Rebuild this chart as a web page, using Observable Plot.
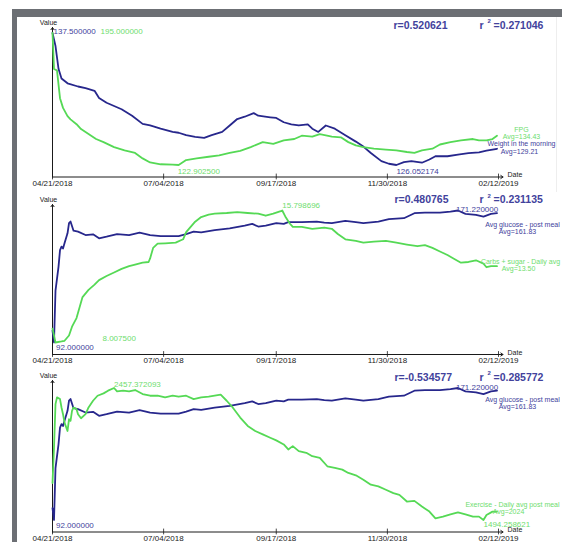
<!DOCTYPE html>
<html><head><meta charset="utf-8">
<script src="https://cdn.jsdelivr.net/npm/d3@7"></script>
<script src="https://cdn.jsdelivr.net/npm/@observablehq/plot@0.6"></script>
<style>
html,body{margin:0;padding:0;background:#fff;width:562px;height:542px;overflow:hidden;}
#wrap{position:relative;width:562px;height:542px;overflow:hidden;}
.frame{position:absolute;background:#6c6f74;}
.panel{position:absolute;left:0;}
.panel svg{overflow:visible;background:transparent;}
</style></head>
<body><div id="wrap">
<div class="frame" style="left:12px;top:9px;width:550px;height:8px;"></div>
<div class="frame" style="left:12px;top:9px;width:5px;height:533px;"></div>
<div style="position:absolute;left:556px;top:17px;width:1px;height:175px;background:#eeeeee;"></div>
<div class="panel" id="p1" style="top:17px"></div>
<div class="panel" id="p2" style="top:190px"></div>
<div class="panel" id="p3" style="top:365px"></div>
</div>
<script>
// ---- data (days since 04/21/2018) ----
const startLabel = "04/21/2018";
const endLabel = "02/12/2019";
const tickLabels = ["04/21/2018","07/04/2018","09/17/2018","11/30/2018","02/12/2019"];

const weightDays = [0,2,4,6,10,17,22,28,31,36,46,53,60,65,72,80,84,89,95,101,106,113,118,123,128,134,137,145,149,154,159,164,170,173,177,182,188,195,202,207,212,219,224,229,234,239,246,251,255,263,270,277,284,289,296];
const weightVals = [137.5,136.37,134.40,133.56,133.14,132.86,132.72,132.49,131.87,131.45,130.89,130.33,129.62,129.48,129.20,128.92,128.85,128.64,128.50,128.41,128.64,128.92,129.48,130.04,130.24,130.55,130.33,130.19,130.13,129.76,129.57,129.48,129.57,129.20,128.92,129.48,129.20,128.64,128.08,127.65,127.09,126.39,126.16,126.052174,126.30,126.39,126.25,126.53,126.81,126.81,126.95,127.09,127.15,127.29,127.46];

const fpgDays = [0,1,3,5,7,10,12,16,19,24,29,34,41,48,55,60,65,72,80,84,89,96,104,111,118,125,132,140,147,154,161,166,173,178,186,192,197,202,207,214,222,229,236,241,246,253,258,265,272,280,284,289,293,296];
const fpgVals = [195,175.4,174.5,159.4,154.1,149.6,147.8,145.2,142.5,139.8,137.1,135.4,132.7,130.9,129.5,126.5,124.3,123.3,123.1,122.9025,125.6,126.5,127.4,128.2,129.5,130.6,132.7,135.4,134.5,136.3,137.1,138.9,138.4,139.8,138.4,138.0,135.4,133.6,132.7,131.8,131.3,130.9,130.0,129.5,130.9,131.8,134.1,135.4,136.3,137.1,136.3,136.3,137.1,138.9];

const glucoseDays = [0,1,2,4,5,6,7,8,10,11,12,14,17,22,27,31,36,43,51,58,65,72,80,84,89,94,99,108,118,128,133,137,142,149,154,157,166,176,181,186,195,202,207,217,224,234,241,248,258,265,270,275,282,287,292,296];
const glucoseVals = [99.1,92,123.2,137.4,147.4,149.5,148.4,151.5,157.5,163.6,164.6,159.1,158.5,156.5,156.9,154.5,155.5,157.1,156.5,157.9,156.5,155.9,155.9,155.9,157.1,158.5,158.1,159.5,160.5,162.2,163.2,161.6,162.2,163.6,163.2,164.2,164.2,164.6,164.0,163.6,165.0,164.2,163.6,164.6,166.0,166.6,169.6,170.0,170.0,170.6,171.22,169.2,168.6,167.6,169.2,169.6];

const carbsDays = [0,2,6,8,11,13,16,18,20,24,28,31,36,41,46,51,55,60,64,65,67,70,75,82,87,89,92,95,99,104,108,116,123,130,137,142,147,152,153,155,158,160,166,173,181,186,190,195,202,207,214,222,229,236,243,248,253,258,263,267,272,277,282,287,289,292,296];
const carbsVals = [8.83,8.0075,8.07,8.11,8.42,8.94,9.45,10.07,10.69,11.11,11.42,11.69,11.93,12.14,12.35,12.51,12.60,12.72,12.76,12.97,13.59,13.84,13.86,13.90,14.10,14.52,14.83,15.14,15.41,15.55,15.61,15.65,15.70,15.65,15.61,15.49,15.61,15.76,15.798696,15.45,15.03,14.83,14.83,14.72,14.79,14.72,14.41,14.10,14.00,13.90,13.96,14.00,13.90,13.79,13.69,13.75,13.59,13.38,13.17,12.97,12.72,12.76,12.86,12.66,12.45,12.51,12.51];

const exDays = [0,1,2,3,5,6,7,8,10,11,12,13,14,16,17,19,22,24,27,30,34,37,41,43,47,51,55,60,65,70,75,80,84,89,94,99,104,108,112,116,120,125,130,135,140,145,149,154,157,160,164,169,173,178,183,188,193,197,202,207,212,217,222,227,231,236,241,246,251,255,260,265,270,275,280,284,287,289,293,296];
const exVals = [1763.8,2021.2,2339.8,2388.8,2376.5,2315.3,2266.2,2205.0,2143.7,2229.5,2217.2,2290.7,2315.3,2303.0,2266.2,2236.8,2266.2,2315.3,2364.3,2401.0,2418.2,2437.8,2457.372093,2432.9,2437.8,2432.9,2442.7,2413.3,2401.0,2401.0,2388.8,2401.0,2393.7,2401.0,2376.5,2388.8,2393.7,2401.0,2408.4,2364.3,2315.3,2241.7,2180.5,2143.7,2119.2,2094.7,2075.1,2045.7,2008.9,2033.4,1996.7,1984.4,1959.9,1947.6,1886.4,1874.1,1861.9,1837.4,1820.2,1788.3,1751.6,1739.3,1714.8,1690.3,1678.1,1629.0,1634.0,1592.3,1555.5,1506.5,1518.8,1535.9,1550.6,1535.9,1518.8,1518.8,1494.258621,1531.0,1555.5,1555.5];

const seriesNames = ["FPG","Weight in the morning","Avg glucose - post meal","Carbs + sugar - Daily avg","Exercise - Daily avg post meal"];
const seriesAvgs = ["Avg=134.43","Avg=129.21","Avg=161.83","Avg=13.50","Avg=2024"];
const rValues = ["r=0.520621","r=0.480765","r=-0.534577"];
const r2Values = ["=0.271046","=0.231135","=0.285772"];

// ---- drawing ----
const parse = d3.utcParse("%m/%d/%Y");
const startDate = parse(startLabel), endDate = parse(endLabel);
const axisEnd = d3.utcDay.offset(endDate, 3);
const tickDates = tickLabels.map(parse);
const toRows = (days, vals) => days.map((d, i) => ({date: d3.utcDay.offset(startDate, d), value: vals[i]}));

const weight = toRows(weightDays, weightVals);
const fpg = toRows(fpgDays, fpgVals);
const glucose = toRows(glucoseDays, glucoseVals);
const carbs = toRows(carbsDays, carbsVals);
const exercise = toRows(exDays, exVals);

const NAVY = "#27278c", GREEN = "#55d955", NAVY_T = "#42429c", GREEN_T = "#6edd6e", AXIS = "#1a1a1a";
const FONT = '"Liberation Sans", Arial, Helvetica, sans-serif';
const PX = 132, A = -12 / PX, ML = 52, MR = 64, W = 562;

function seriesMarks(rows, color, textColor, l) {
  const base = {x: "date", y: "value", text: d => d.value.toFixed(6), fill: textColor, fontSize: 8, textAnchor: "start"};
  return [
    Plot.lineY(rows, Plot.normalizeY("extent", {x: "date", y: "value", stroke: color, strokeWidth: 1.8})),
    Plot.text(rows, Plot.selectMaxY(Plot.normalizeY("extent", {...base, dx: l.maxDx, dy: l.maxDy}))),
    Plot.text(rows, Plot.selectMinY(Plot.normalizeY("extent", {...base, dx: l.minDx, dy: l.minDy})))
  ];
}

function buildPanel(el, cfg) {
  const {top, height, mTop, mBottom} = cfg;
  const B = A + (height - mTop - mBottom) / PX;
  const at = (str, px, py, o) => Plot.text([str], {frameAnchor: "top-left", lineAnchor: "middle", text: d => d, dx: px - ML, dy: py - (top + mTop), ...o});
  const legend = (str, px, py, color) => at(str, px, py, {fill: color, fontSize: 7, textAnchor: "middle"});
  const rStyle = {fill: NAVY_T, fontSize: 10.5, fontWeight: "bold", textAnchor: "start"};
  const marks = [
    Plot.arrow([0], {x1: () => startDate, x2: () => startDate, y1: () => A, y2: () => B, stroke: AXIS, strokeWidth: 1, headLength: 4, headAngle: 70}),
    Plot.arrow([0], {x1: () => startDate, x2: () => axisEnd, y1: () => A, y2: () => A, stroke: AXIS, strokeWidth: 1, headLength: 4, headAngle: 70}),
    Plot.ruleX(tickDates, {x: d => d, y1: () => A - 0.022, y2: () => A + 0.022, stroke: AXIS, strokeWidth: 0.8}),
    Plot.axisX(tickDates, {anchor: "bottom", tickSize: 0, tickPadding: 3, tickFormat: d3.utcFormat("%m/%d/%Y"), fontSize: 8, color: "#222", label: null}),
    Plot.text(["Value"], {x: () => startDate, y: () => B, text: d => d, dx: -4, dy: -5, fontSize: 7, fill: "#222"}),
    Plot.text(["Date"], {x: () => axisEnd, y: () => A, text: d => d, dx: 4.5, dy: -2, textAnchor: "start", fontSize: 7, fill: "#222"}),
    ...cfg.series.flatMap(s => seriesMarks(s.rows, s.color, s.textColor, s.labels)),
    at(cfg.r, cfg.rx, cfg.ry, rStyle),
    at("r", 479, cfg.ry, rStyle),
    at("2", 487, cfg.ry - 4, {...rStyle, fontSize: 6}),
    at(cfg.r2, 493, cfg.ry, rStyle),
    ...cfg.legend.map(g => legend(g[0], g[1], g[2], g[3]))
  ];
  const svg = Plot.plot({
    width: W, height, marginLeft: ML, marginRight: MR, marginTop: mTop, marginBottom: mBottom,
    x: {type: "utc", domain: [startDate, endDate], label: null},
    y: {domain: [A, B], axis: null, label: null},
    style: {fontFamily: FONT, background: "transparent", overflow: "visible"},
    marks
  });
  document.getElementById(el).appendChild(svg);
}

buildPanel("p1", {
  top: 17, height: 173, mTop: 10, mBottom: 13.5,
  r: rValues[0], r2: r2Values[0], rx: 393, ry: 25,
  series: [
    {rows: weight, color: NAVY, textColor: NAVY_T, labels: {maxDx: 1, maxDy: -2, minDx: 0, minDy: 6}},
    {rows: fpg, color: GREEN, textColor: GREEN_T, labels: {maxDx: 48, maxDy: -2, minDx: -1, minDy: 6}}
  ],
  legend: [
    [seriesNames[0], 521, 129, GREEN_T], [seriesAvgs[0], 521, 136.5, GREEN_T],
    [seriesNames[1], 521, 143.5, NAVY_T], [seriesAvgs[1], 519, 151, NAVY_T]
  ]
});

buildPanel("p2", {
  top: 190, height: 175, mTop: 14, mBottom: 11,
  r: rValues[1], r2: r2Values[1], rx: 394, ry: 199.5,
  series: [
    {rows: glucose, color: NAVY, textColor: NAVY_T, labels: {maxDx: -2, maxDy: -1, minDx: 2, minDy: 5}},
    {rows: carbs, color: GREEN, textColor: GREEN_T, labels: {maxDx: 0, maxDy: -5, minDx: 47, minDy: -4}}
  ],
  legend: [
    [seriesNames[2], 522, 224, NAVY_T], [seriesAvgs[2], 517, 231, NAVY_T],
    [seriesNames[3], 520, 261.5, GREEN_T], [seriesAvgs[3], 518, 268.5, GREEN_T]
  ]
});

buildPanel("p3", {
  top: 365, height: 177, mTop: 15, mBottom: 10.5,
  r: rValues[2], r2: r2Values[2], rx: 394, ry: 377,
  series: [
    {rows: glucose, color: NAVY, textColor: NAVY_T, labels: {maxDx: -2, maxDy: -1, minDx: 2, minDy: 5}},
    {rows: exercise, color: GREEN, textColor: GREEN_T, labels: {maxDx: 0, maxDy: -4, minDx: 0, minDy: 4}}
  ],
  legend: [
    [seriesNames[2], 522, 399, NAVY_T], [seriesAvgs[2], 517, 406, NAVY_T],
    [seriesNames[4], 512, 504.5, GREEN_T], [seriesAvgs[4], 508, 511.5, GREEN_T]
  ]
});
</script>
</body></html>
